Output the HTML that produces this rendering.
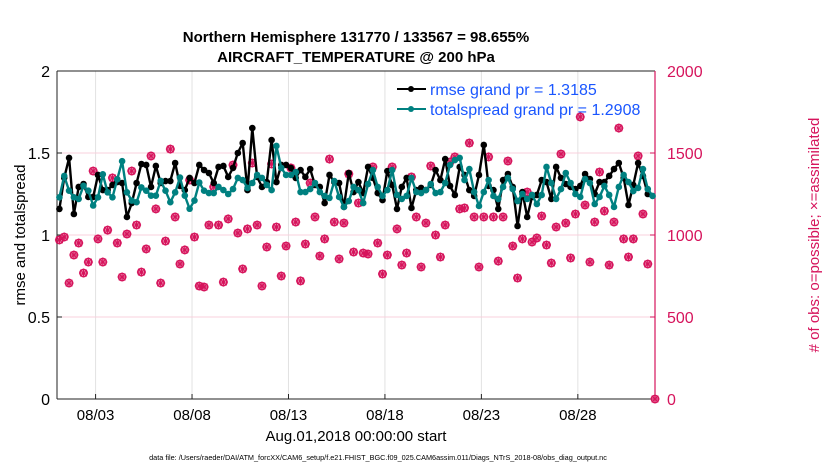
<!DOCTYPE html>
<html><head><meta charset="utf-8">
<style>
html,body{margin:0;padding:0;background:#fff;}
svg text{font-family:"Liberation Sans",Arial,sans-serif;}
</style></head>
<body>
<svg id="chart" width="830" height="470" viewBox="0 0 830 470" xmlns="http://www.w3.org/2000/svg">
<rect x="0" y="0" width="830" height="470" fill="#fff"/>
<g id="grid"></g>
<g id="axes"></g>
<g id="series"></g>
<text x="356" y="42" text-anchor="middle" font-size="15" font-weight="bold">Northern Hemisphere 131770 / 133567 = 98.655%</text>
<text x="356" y="62" text-anchor="middle" font-size="15" font-weight="bold">AIRCRAFT_TEMPERATURE @ 200 hPa</text>
<text transform="translate(25,235) rotate(-90)" text-anchor="middle" font-size="15">rmse and totalspread</text>
<text transform="translate(819,235) rotate(-90)" text-anchor="middle" font-size="15" fill="#d6145c"># of obs: o=possible; ×=assimilated</text>
<text x="356" y="441" text-anchor="middle" font-size="15">Aug.01,2018 00:00:00 start</text>
<text x="378" y="460" text-anchor="middle" font-size="7.3">data file: /Users/raeder/DAI/ATM_forcXX/CAM6_setup/f.e21.FHIST_BGC.f09_025.CAM6assim.011/Diags_NTrS_2018-08/obs_diag_output.nc</text>
<g>
 <g>
  <line x1="397" y1="89" x2="426" y2="89" stroke="#000" stroke-width="2"/>
  <circle cx="411" cy="89" r="3" fill="#000"/>
  <text x="430" y="95" font-size="16" fill="#1a56ff">rmse grand pr = 1.3185</text>
 </g>
 <g>
  <line x1="397" y1="109" x2="426" y2="109" stroke="#008080" stroke-width="2"/>
  <circle cx="411" cy="109" r="3" fill="#008080"/>
  <text x="430" y="115" font-size="16" fill="#1a56ff">totalspread grand pr = 1.2908</text>
 </g>
</g>
</svg>
<script>
const startDay = 1.125;
const stepDay = 0.25;
const xTickDays = [3, 8, 13, 18, 23, 28];
const xTickLabels = ['08/03','08/08','08/13','08/18','08/23','08/28'];
const yTicks = [0, 0.5, 1, 1.5, 2];
const yTickLabels = ['0','0.5','1','1.5','2'];
const rightTicks = [0, 500, 1000, 1500, 2000];
const rightTickLabels = ['0','500','1000','1500','2000'];
const rmse = [1.159,1.348,1.470,1.128,1.293,1.311,1.232,1.232,1.366,1.274,1.274,1.305,1.323,1.317,1.110,1.195,1.317,1.433,1.427,1.293,1.421,1.317,1.329,1.329,1.439,1.299,1.274,1.348,1.317,1.427,
1.396,1.378,1.317,1.415,1.421,1.354,1.409,1.500,1.561,1.274,1.652,1.354,1.293,1.323,1.579,1.323,1.427,1.427,1.409,1.348,1.396,1.354,1.402,1.305,1.293,1.195,1.366,1.323,1.317,1.171,1.378,1.262,
1.323,1.256,1.415,1.348,1.256,1.213,1.390,1.305,1.159,1.293,1.348,1.165,1.274,1.287,1.274,1.305,1.396,1.335,1.463,1.299,1.244,1.415,1.366,1.274,1.238,1.366,1.549,1.299,1.274,1.159,1.335,
1.372,1.293,1.055,1.262,1.110,1.232,1.244,1.335,1.323,1.220,1.415,1.348,1.311,1.293,1.280,1.299,1.372,1.341,1.250,1.323,1.323,1.360,1.402,1.439,1.348,1.183,1.305,1.439,1.360,1.250];
const spread = [1.23,1.36,1.27,1.23,1.22,1.30,1.27,1.18,1.23,1.37,1.26,1.23,1.34,1.45,1.26,1.21,1.20,1.29,1.27,1.24,1.24,1.33,1.27,1.20,1.26,1.35,1.24,1.16,1.21,1.32,1.27,
1.256,1.256,1.293,1.274,1.250,1.280,1.348,1.335,1.287,1.317,1.366,1.348,1.305,1.274,1.543,1.409,1.366,1.366,1.384,1.262,1.262,1.280,1.317,1.262,1.238,1.226,1.329,1.232,1.171,1.207,1.293,1.274,
1.195,1.311,1.396,1.293,1.238,1.274,1.396,1.244,1.220,1.238,1.348,1.262,1.256,1.274,1.311,1.256,1.262,1.317,1.427,1.457,1.470,1.335,1.402,1.262,1.177,1.262,1.335,1.238,1.220,1.293,1.348,
1.280,1.207,1.250,1.220,1.244,1.189,1.244,1.415,1.317,1.220,1.280,1.378,1.317,1.250,1.232,1.341,1.317,1.189,1.232,1.299,1.244,1.171,1.293,1.366,1.323,1.268,1.287,1.402,1.280,1.238];
const obsCount = [970,988,707,878,951,768,835,1390,976,835,1030,1348,951,744,1006,1390,1061,774,915,1482,1159,707,963,1524,1110,823,909,1335,988,689,
683,1061,1293,1061,713,1098,1427,1012,793,1037,1439,1061,689,927,1433,1049,750,933,1409,1079,720,945,1317,1110,872,976,1463,1079,854,1073,1372,896,
1195,890,884,1415,951,762,878,1415,1037,817,890,1354,1110,805,1073,1421,1000,866,1061,1445,1476,1159,1165,1561,1110,805,1110,1476,1110,841,1110,1451,933,
738,976,1262,957,982,1116,939,829,1049,1494,1073,860,1128,1720,1183,835,1079,1384,1146,817,1079,1652,976,866,976,1482,1128,823];
const finalObsDay = 32;
const finalObsCount = 0;

const L=57,R=655,T=71,B=399;
const dayMin=1, dayMax=32;
function xs(d){return L+(d-dayMin)/(dayMax-dayMin)*(R-L);}
function ys(v){return B-v/2*(B-T);}
function yr(v){return B-v/2000*(B-T);}
const NS='http://www.w3.org/2000/svg';
function mk(tag,attrs,parent){const e=document.createElementNS(NS,tag);for(const k in attrs)e.setAttribute(k,attrs[k]);parent.appendChild(e);return e;}
const grid=document.getElementById('grid'),axes=document.getElementById('axes'),series=document.getElementById('series');

xTickDays.forEach((d,i)=>{
  const gl=mk('line',{x1:xs(d),x2:xs(d),y1:T,y2:B,stroke:'#e2e2e2','stroke-width':1},grid);
  
  
  const tk=mk('line',{x1:xs(d),x2:xs(d),y1:B,y2:B-5,stroke:'#222','stroke-width':1},axes);
  
  
  const t=mk('text',{x:xs(d),y:420,'text-anchor':'middle','font-size':15},axes);
  t.textContent=xTickLabels[i];
  
  
});
yTicks.forEach((v,i)=>{
  if(v>0&&v<2){
    const gl=mk('line',{x1:L,x2:R,y1:ys(v),y2:ys(v),stroke:'#f8d0dc','stroke-width':1},grid);
    
    
  }
  const tk=mk('line',{x1:L,x2:L+5,y1:ys(v),y2:ys(v),stroke:'#222'},axes);
  
  
  const t=mk('text',{x:50,y:ys(v)+6,'text-anchor':'end','font-size':16},axes);
  t.textContent=yTickLabels[i];
  
  
});
rightTicks.forEach((v,i)=>{
  const tk=mk('line',{x1:R,x2:R-5,y1:yr(v),y2:yr(v),stroke:'#d6145c'},axes);
  
  
  const t=mk('text',{x:667,y:yr(v)+6,'font-size':16,fill:'#d6145c'},axes);
  t.textContent=rightTickLabels[i];
  
  
});
const la=mk('line',{x1:L,x2:L,y1:T,y2:B,stroke:'#222','stroke-width':1},axes);


const ta=mk('line',{x1:L,x2:R,y1:T,y2:T,stroke:'#222','stroke-width':1},axes);


const ba=mk('line',{x1:L,x2:R,y1:B,y2:B,stroke:'#222','stroke-width':1},axes);


const ra=mk('line',{x1:R,x2:R,y1:T,y2:B,stroke:'#d6145c','stroke-width':1.2},axes);



function obsMarker(d,v){
  const g=mk('g',{},series);
  
  
  const x=xs(d),y=yr(v);
  mk('circle',{cx:x,cy:y,r:3.6,fill:'none',stroke:'#d6145c','stroke-width':1.6},g);
  mk('path',{d:`M${x-4.5} ${y}H${x+4.5}M${x} ${y-4.5}V${y+4.5}M${x-3.3} ${y-3.3}L${x+3.3} ${y+3.3}M${x-3.3} ${y+3.3}L${x+3.3} ${y-3.3}`,stroke:'#d6145c','stroke-width':1.2},g);
}
obsCount.forEach((v,i)=>obsMarker(startDay+i*stepDay,v));
obsMarker(finalObsDay,finalObsCount);

function drawLine(vals,color,name){
  const pts=vals.map((v,i)=>xs(startDay+i*stepDay).toFixed(1)+','+ys(v).toFixed(1)).join(' ');
  const pl=mk('polyline',{points:pts,fill:'none',stroke:color,'stroke-width':2.4,'stroke-linejoin':'round'},series);
  
  
  vals.forEach((v,i)=>{
    const c=mk('circle',{cx:xs(startDay+i*stepDay),cy:ys(v),r:3.3,fill:color},series);
    
    
  });
}
drawLine(rmse,'#000','rmse');
drawLine(spread,'#008080','totalspread');
</script>
</body></html>
